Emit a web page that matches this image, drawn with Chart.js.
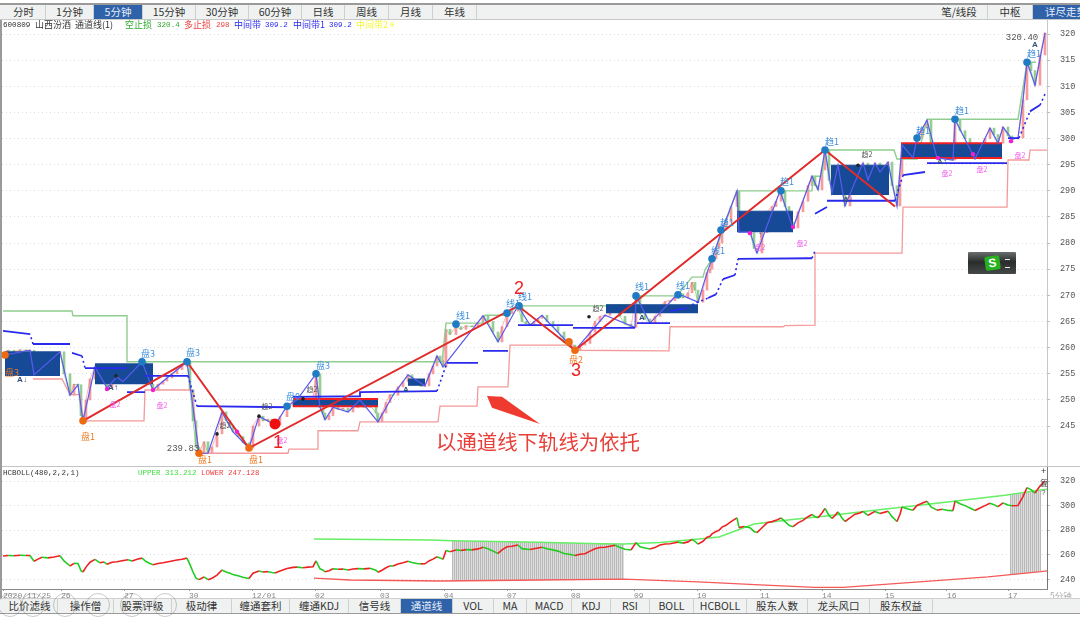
<!DOCTYPE html>
<html lang="zh"><head><meta charset="utf-8">
<script src="https://cdn.jsdelivr.net/npm/chart.js@4"></script>
<style>
html,body{margin:0;padding:0;background:#fff;overflow:hidden}
#app{position:relative;width:1080px;height:617px;font-family:"Liberation Mono","Noto Sans CJK SC",monospace;filter:blur(.35px);color:#333}
canvas{position:absolute}
.bar{position:absolute;left:0;width:1080px;background:#eff2f1;box-sizing:border-box}
.tab{position:absolute;top:0;height:100%;text-align:center;font:10.5px/14px "Noto Sans CJK SC",sans-serif;border-right:1px solid #ccd0cf;box-sizing:border-box;color:#333;white-space:nowrap;overflow:hidden}
.tab.on{background:#2f62a8;color:#e8eefa}
.tab.cut{text-align:left;padding-left:12px;border-right:0}
.leg{position:absolute;top:18px;font:9px/14px "Noto Sans CJK SC",sans-serif;white-space:pre}
.leg.n{font:7.6px/14px "Liberation Mono",monospace}
.leg2{position:absolute;top:467px;font:7.5px/12px "Liberation Mono","Noto Sans CJK SC",monospace;white-space:pre}
.ln{position:absolute;background:#9a9a9a}
.ring{position:absolute;width:24px;height:24px;border:1px solid rgba(120,120,120,.4);border-radius:50%;top:593px;box-sizing:border-box}
#wid{position:absolute;left:968px;top:252px;width:48px;height:22px;background:linear-gradient(#6a6e6e,#2b2d2d 45%,#454848);border-radius:1px}
#wid b{position:absolute;left:17px;top:4px;width:15px;height:14px;background:#27b01f;color:#fff;font:bold 12px/14px "Liberation Sans",sans-serif;text-align:center;transform:rotate(-8deg);border-radius:2px}
#wid i{position:absolute;right:6px;width:5px;height:1px;background:#eee}
</style></head><body><div id="app">
<div class="ln" style="left:0;top:3px;width:1080px;height:2px"></div>
<div class="ln" style="left:0;top:3px;width:2px;height:610px"></div>
<div id="topbar" class="bar" style="top:5px;height:14px"></div>
<div class="ln" style="left:0;top:19px;width:1080px;height:1px;background:#c8c8c8"></div>
<canvas id="main" style="left:2px;top:20px;width:1078px;height:446px"></canvas>
<canvas id="sub" style="left:2px;top:467px;width:1078px;height:133px"></canvas>
<div class="ln" style="left:2px;top:466px;width:1078px;height:1px;background:#c4c4c4"></div>
<div class="ln" style="left:2px;top:589px;width:1046px;height:1px;background:#888"></div>
<div id="legend"></div>
<div class="leg2" style="left:3px;color:#333">HCBOLL(480,2,2,1)</div>
<div class="leg2" style="left:138px;color:#3fdc3f">UPPER 313.212</div>
<div class="leg2" style="left:201px;color:#f04040">LOWER 247.128</div>
<div class="leg2" style="left:1041px;top:466px;color:#333;font-size:9px">+</div>
<div class="leg2" style="left:1040px;top:478px;color:#444;font-size:8px">复</div>
<div class="leg2" style="left:1041px;top:487px;color:#666;font-size:8px">?</div>
<div class="leg2" style="left:1050px;top:590px;color:#aaa;font-size:8.5px;line-height:10px;font-family:'Noto Sans CJK SC'">5分钟</div>
<div id="botbar" class="bar" style="top:598px;height:15px;border-top:1px solid #ccd0cf"></div>
<div class="ln" style="left:0;top:613px;width:1080px;height:1px"></div>
<div class="ring" style="left:-2px"></div><div class="ring" style="left:21px"></div><div class="ring" style="left:53px"></div><div class="ring" style="left:86px"></div><div class="ring" style="left:120px"></div><div class="ring" style="left:153px"></div>
<div id="wid"><b>S</b><i style="top:7px"></i><i style="top:15px"></i></div>
</div>
<script>
// Position along the time axis is expressed as bar position, price in yuan.
const topTabs=[["分时",2,46],["1分钟",46,94],["5分钟",94,143,1],["15分钟",143,196],["30分钟",196,249],["60分钟",249,302],["日线",302,345],["周线",345,389],["月线",389,433],["年线",433,477],["笔/线段",931,988],["中枢",988,1033],["详尽走势",1033,1080,2]];
const bottomTabs=[["比价滤线",2,58],["操作僧",58,114],["股票评级",114,172],["极动律",172,232],["缠通套利",232,290],["缠通KDJ",290,349],["信号线",349,401],["通道线",401,453,1],["VOL",453,494],["MA",494,527],["MACD",527,572],["KDJ",572,611],["RSI",611,650],["BOLL",650,694],["HCBOLL",694,747],["股东人数",747,808],["龙头风口",808,870],["股东权益",870,933]];
const legendItems=[["600809",3,"#333",1],["山西汾酒",35,"#333"],["通道线(1)",75,"#333"],["空止损",125,"#2faa2f"],["320.4",157,"#2faa2f",1],["多止损",184,"#f04040"],["298",216,"#f04040",1],["中间带",234,"#2a2af0"],["309.2",265,"#2a2af0",1],["中间带1",293,"#2a2af0"],["309.2",329,"#2a2af0",1],["中间带2",356,"#f6f63a"],["0",390,"#f6f63a",1]];

const priceTicks=[320,315,310,305,300,295,290,285,280,275,270,265,260,255,250,245];
const subTicks=[320,300,280,260,240];
const dayTicks=[3,61,124,189,252,315,380,444,507,571,634,697,760,822,885,947,1008];
const dayLabels=["2020/11/25","26","27","30","12/01","02","03","04","07","08","09","10","11","14","15","16","17"];

const pricePath=[[3,259],[8,259.5],[14,259.2],[20,259.6],[26,259.4],[30,259.5],[34,254.8],[38,256.5],[42,258],[48,257.5],[54,258.2],[60,259.2],[64,255],[70,250.9],[74,253],[78,252.9],[81,247],[83,246],[86,250],[90,254],[95,256.3],[100,253.5],[104,254.2],[107,252.3],[112,254],[117,254.4],[122,255.2],[128,256],[132,255],[138,256.6],[142,257.3],[146,254.5],[150,253],[153,251.9],[158,253],[163,253.6],[167,254.2],[172,255],[177,255.8],[182,256.4],[187,257.3],[190,252],[193,246],[196,241],[199,239.8],[204,242],[208,239.8],[212,241],[217,243.5],[222,247.7],[226,246],[230,245],[233,243.9],[238,243],[243,241.8],[249,240.8],[253,245],[259,246.9],[263,246],[268,246.3],[272,245.6],[275,245.2],[280,246.8],[287,248.8],[293,249.8],[297,250],[303,249.5],[308,250],[313,250.3],[316,255],[320,248.6],[323,247.5],[325,246.2],[329,247],[333,248.6],[338,248.2],[343,248.4],[348,247.7],[353,248.5],[358,248.8],[364,248.6],[370,249],[376,247.5],[378,245.8],[382,247.5],[386,249.5],[390,251],[393,250.9],[398,252.5],[403,253.5],[408,254.8],[412,253.8],[417,253],[421,252.6],[425,252.7],[429,255],[433,256.5],[437,258.4],[440,257.5],[443,256.3],[446,263.5],[450,262.5],[456,264],[461,263.5],[466,264.2],[472,264],[478,264.8],[483,266.1],[488,265],[493,263],[498,261.1],[502,264],[507,266.5],[512,267],[518,268],[522,265],[526,264.6],[530,264.3],[534,265],[538,265.6],[542,266.2],[547,265],[553,264],[558,263],[564,261],[569,260.5],[575,259.5],[580,260.5],[585,260.8],[590,263],[595,265],[600,266],[605,266.2],[610,267],[615,267.8],[620,266],[625,264.5],[631,263.9],[636,269.9],[640,266.5],[645,265.5],[650,264.7],[655,266],[660,268],[665,268.8],[670,269],[675,269.8],[678,270.3],[683,269.5],[688,270.5],[692,272.5],[695,271],[698,268.7],[703,271],[707,274.3],[710,275],[712,277],[716,279],[719,280],[722,282.5],[726,284],[731,287],[737,290],[739,282.1],[744,283],[750,282],[754,279],[757,278.1],[762,282],[767,286],[772,287],[776,288],[781,290],[785,287],[789,284],[793,282.9],[798,286],[803,288],[808,291],[812,292.8],[815,291],[818,290.2],[822,294],[825,297.8],[829,292],[832,289.6],[835,292],[838,294.9],[842,290],[845,287.1],[850,290],[855,293],[860,294],[863,295.3],[868,292.1],[872,294],[875,295.3],[880,293.6],[884,294.5],[888,295.5],[892,291],[897,287.1],[900,293],[902,298.8],[907,297.5],[913,296.3],[917,300.1],[922,302],[927,303.5],[931,299],[937,296.3],[942,297],[948,296],[953,295.9],[955,303.7],[960,301.5],[965,300],[970,298],[975,296.1],[980,298],[985,300],[990,302],[994,300.8],[998,299.1],[1003,302.2],[1008,300.5],[1012,299.9],[1018,300.1],[1023,307.4],[1027,314.6],[1031,313],[1035,310.2],[1040,316],[1045,320.2]];

const zigzag=[[5,258.6],[30,259.5],[34,254.8],[60,259.2],[70,250.9],[78,252.9],[83,246],[95,256.3],[107,252.3],[117,254.4],[123,253.5],[142,257.3],[153,251.9],[167,254.2],[187,257.3],[199,239.8],[208,239.8],[222,247.7],[233,243.9],[249,240.8],[259,246.9],[275,245.2],[287,248.8],[297,250],[316,255],[320,248.6],[325,246.2],[333,248.6],[348,247.7],[360,250],[378,245.8],[393,250.9],[408,254.8],[425,252.7],[437,258.4],[443,256.3],[483,266.1],[498,261.1],[518,268],[530,264.3],[542,266.2],[575,259.5],[605,266.2],[635,263.9],[636,269.9],[650,264.7],[678,270.3],[698,268.7],[707,274.3],[712,277],[722,282.5],[737,290],[739,282.1],[750,282.1],[757,278.1],[780,290],[793,282.9],[812,292.8],[818,290.2],[825,297.8],[832,289.6],[838,294.9],[845,287.1],[863,295.3],[868,292.1],[875,295.3],[880,293.6],[888,295.5],[897,287.1],[902,298.8],[913,296.3],[917,300.1],[927,303.5],[937,296.3],[953,295.9],[955,303.7],[975,296.1],[990,302],[998,299.1],[1003,302.2],[1012,299.9],[1018,300.1],[1023,307.4],[1027,314.6],[1035,310.2],[1045,320.2]];

const trendLine=[[83,246],[187,257.3],[249,240.8],[518,268],[575,259.5],[825,297.8],[895,287]];

const shortStop=[[3,267],[72,267],[73,266.1],[127,266.1],[127,257.3],[442,257.3],[446,264.7],[483,264.7],[485,266.2],[505,266.2],[518,268],[606,268],[607,268.2],[636,268.2],[637,269.9],[677,269.9],[692,273.5],[703,273.5],[705,274.9],[712,277],[722,282.1],[737,290],[812,290],[813,292.8],[822,292.8],[825,297.8],[894,297.8],[897,296.1],[917,296.1],[927,303.7],[1018,303.7],[1027,314.6],[1036,314.6]];

const longStop=[[33,254],[62,254],[70,251],[80,251],[83,246],[144,246],[145,251.9],[187,251.9],[192,251.9],[197,243],[199,239.8],[288,239.8],[289,240.6],[318,240.6],[318,244.1],[358,244.1],[360,245.8],[438,245.8],[440,248.8],[477,248.8],[478,252.5],[508,252.5],[510,260.5],[573,260.5],[575,259.5],[669,259.4],[670,264],[783,264],[785,264.2],[815,264.3],[815,278.1],[902,278.1],[903,286.9],[1007,286.9],[1008,295.9],[1029,295.9],[1030,297.8],[1047,297.8]];

const midBand=[[3,263.2],[30,262.6],null,[33,260.7],[70,260.7],null,[72,259],[82,258.4],null,[85,256.1],[127,256.1],null,[127,251.5],[145,251.5],null,[145,254.6],[188,254.6],null,[197,248.8],[287,248.6],null,[293,250.6],[360,250.7],[360,251.5],[437,251.7],null,[447,257.1],[478,257.1],null,[483,259.4],[508,259.4],null,[518,264.3],[573,264.3],null,[573,263.8],[635,263.8],null,[637,264.7],[670,264.7],null,[670,267],[687,267.6],null,[708,269.5],[716,270.2],null,[723,273.1],[735,273.9],null,[738,277],[812,277.1],null,[815,285.6],[827,286.9],null,[827,288.1],[895,288.1],null,[903,293],[925,293.6],null,[927,295.3],[1007,295.3],null,[1008,300.1],[1019,300.1],null,[1030,305.2],[1040,306.4]];
const midBandDots=[[33,260.7],[30,262.6],null,[82,258.4],[85,256.1],null,[188,254.6],[197,248.8],null,[437,251.7],[447,257.1],null,[692,268.2],[708,269.5],null,[716,270.2],[723,273.1],null,[735,273.9],[738,277],null,[812,277.1],[815,278.5],null,[895,288.1],[903,293],null,[1019,300.1],[1030,305.2],null,[1040,306.4],[1046,308.9]];

const boxes=[[5,60,254.6,259.2],[95,153,253,256.9],[293,378,248.8,250.2,1],[408,425,252.7,254],[606,698,266.6,268.2],[737,793,282.1,286.1],[831,889,289.2,294.9],[901,1002,296.3,299.1,1]];

const bluePivots=[[142,257.3],[187,257.3],[287,248.8],[316,255],[456,264.5],[507,266.6],[519,268],[636,269.9],[678,270.1],[712,277],[721,282.5],[781,290],[825,297.8],[917,300.1],[955,303.7],[1027,314.6]];
const orangePivots=[[5,258.6],[83,246],[199,239.8],[249,240.8],[569,261.1],[575,259.5]];
const magentaDots=[[107,252.1],[153,251.9],[237,243.9],[750,281.9],[793,283.1],[938,296.3],[973,297],[1011,299.5]];
const blackDots=[[116,254.6],[217,243.5],[259,246.9],[303,250.2],[589,265.9],[858,294.9]];
const entryDot=[[275,245.4]];

const blueLabels=[[148,258.8,"盘3"],[193,259,"盘3"],[323,256.5,"盘3"],[293,250.6,"盘0"],[463,266.1,"线1"],[513,268.4,"线1"],[525,269.7,"线1"],[642,271.6,"线1"],[683,271.8,"线1"],[718,278.5,"线1"],[727,284,"趋1"],[787,291.7,"趋1"],[832,299.5,"趋1"],[923,301.6,"趋1"],[962,305.3,"趋1"],[1034,316.2,"趋1"]];
const orangeLabels=[[88,242.9,"盘1"],[205,238.5,"盘1"],[256,238.5,"盘1"],[576,257.8,"盘2"],[12,255.3,"盘3"]];
const magentaLabels=[[115,249.2,"盘2"],[162,249,"盘2"],[282,242.3,"盘2"],[760,279.1,"盘2"],[802,280,"盘2"],[947,293.4,"盘2"],[982,294.2,"盘2"],[1020,296.7,"盘2"]];
const greyLabels=[[312,252.1,"趋2"],[225,245.2,"趋2"],[267,248.8,"趋2"],[867,296.9,"趋2"],[598,267.6,"趋2"]];
const arrowMarks=[[22,253.8,"A↓"],[113,252.3,"A↑"],[406,251.9,"A"],[642,265.7,"A"],[848,288.2,"A↓"],[760,281.5,"↑"],[942,295.5,"A↑"],[1035,317.9,"A"]];
const priceNotes=[[183,240.6,"239.83"],[1022,319.4,"320.40"]];
const bigNumbers=[[278,241.8,"1"],[519,271.2,"2"],[576,255.6,"3"]];
const noteText=[[538,241.9,"以通道线下轨线为依托"]];
const arrowShape=[[487,250.75],[502,250.6],[540,245.4],[492,248.5]];

const upperBand=[[314,272.8],[430,272],[452,271.5],[540,270.3],[600,269],[624,268.8],[660,270],[688,272],[719,274.5],[754,285],[790,288.5],[826,291.5],[868,295.6],[926,301],[1005,308.4],[1041,312.8],[1048,313.5]];
const lowerBand=[[314,241.1],[350,239.5],[440,238.7],[540,239.5],[624,240.3],[698,238],[760,235.5],[815,233.5],[843,233.5],[919,238],[988,242],[1041,246.3],[1048,247.1]];
const hatchUpperA=[[452,271.5],[540,270.3],[600,269],[624,268.8]];
const hatchLowerA=[[452,238.8],[540,239.5],[600,240],[624,240.3]];
const hatchUpperB=[[1010,308.9],[1041,312.8]];
const hatchLowerB=[[1010,243.5],[1041,246.3]];

const RED='#ee2222',GREEN='#22cc22';
const pts=a=>a.map(p=>p?{x:p[0],y:p[1]}:{x:null,y:null});
const mkTabs=(id,list)=>{const host=document.getElementById(id);list.forEach(t=>{const d=document.createElement('div');d.className='tab'+(t[3]?' on':'')+(t[3]===2?' cut':'');d.textContent=t[0];d.style.left=t[1]+'px';d.style.width=(t[2]-t[1])+'px';host.appendChild(d);});};
mkTabs('topbar',topTabs);mkTabs('botbar',bottomTabs);
legendItems.forEach(l=>{const d=document.createElement('div');d.className='leg'+(l[3]?' n':'');d.textContent=l[0];d.style.left=l[1]+'px';d.style.color=l[2];document.getElementById('legend').appendChild(d);});

const lineDs=(data,color,width,extra)=>Object.assign({type:'line',data:pts(data),borderColor:color,borderWidth:width,pointRadius:0,tension:0,spanGaps:false,fill:false},extra||{});
const dotDs=(data,color,r)=>({type:'line',data:pts(data),showLine:false,pointRadius:r,pointBackgroundColor:color,pointBorderWidth:0,pointHoverRadius:r});
const stack=list=>{list.forEach((d,i)=>{d.order=-i;});return list;};   // later entries paint on top
const candleData=pricePath.slice(1).map((p,i)=>({x:p[0],y:[pricePath[i][1],p[1]]}));
const candleColor=pricePath.slice(1).map((p,i)=>p[1]>=pricePath[i][1]?'rgba(240,90,90,.6)':'rgba(90,180,90,.65)');
const boxDatasets=[];
boxes.forEach(b=>{
  boxDatasets.push(lineDs([[b[0],b[3]],[b[1],b[3]]],b[4]?'#f02020':'#174a96',b[4]?2:1,{fill:{value:b[2]},backgroundColor:'#174a96'}));
  if(b[4])boxDatasets.push(lineDs([[b[0],b[2]],[b[1],b[2]]],'#f02020',2));
});

const textPlugin={id:'texts',afterDatasetsDraw(c){
  const X=c.scales.x,Y=c.scales.y,g=c.ctx;
  const put=(list,font,color,align)=>{g.save();g.font=font;g.fillStyle=color;g.textAlign=align||'center';g.textBaseline='middle';
    list.forEach(l=>g.fillText(l[2],X.getPixelForValue(l[0]),Y.getPixelForValue(l[1])));g.restore();};
  const cjk='"Noto Sans CJK SC",sans-serif';
  put(blueLabels,'9px '+cjk,'#3d8fdc');
  put(orangeLabels,'9px '+cjk,'#ee7a22');
  put(magentaLabels,'7px '+cjk,'#f060f0');
  put(greyLabels,'7px '+cjk,'#555');
  put(arrowMarks,'bold 8px "Liberation Sans",sans-serif','#35507d');
  put(priceNotes,'9px "Liberation Mono",monospace','#555');
  put(bigNumbers,'18px "Liberation Sans",sans-serif','#ee2222');
  put(noteText,'20.4px '+cjk,'#e8403a');
  g.save();g.fillStyle='#ef3a30';g.beginPath();
  arrowShape.forEach((p,i)=>{const x=X.getPixelForValue(p[0]),y=Y.getPixelForValue(p[1]);i?g.lineTo(x,y):g.moveTo(x,y);});
  g.closePath();g.fill();g.restore();
}};

const xScale={type:'linear',min:2,max:1047,offset:false,display:false,grid:{display:false},ticks:{display:false}};
const yScale=(min,max,ticks,w)=>({type:'linear',position:'right',min,max,
  afterBuildTicks:s=>{s.ticks=ticks.map(v=>({value:v}));},
  afterFit:s=>{s.width=w;s.paddingTop=0;s.paddingBottom=0;},
  grid:{color:'#dcdcdc',tickLength:3,tickColor:'#bbb',drawTicks:true},
  border:{dash:[1,3],color:'#c8c8c8'},
  ticks:{color:'#555',padding:10,font:{family:'"Liberation Mono",monospace',size:8.5},autoSkip:false,callback:v=>String(v)}});
const base={responsive:false,animation:false,events:[],layout:{autoPadding:false,padding:0},
  plugins:{legend:{display:false},tooltip:{enabled:false}}};
const size=(id,w,h)=>{const e=document.getElementById(id);e.width=w;e.height=h;return e;};

new Chart(size('main',1078,446),{type:'line',plugins:[textPlugin],
 data:{datasets:stack([
  {type:'bar',data:candleData,backgroundColor:candleColor,barThickness:2,grouped:false},
  lineDs(pricePath,'#eaa',1,{segment:{borderColor:x=>x.p1.parsed.y>=x.p0.parsed.y?'rgba(240,110,110,.5)':'rgba(100,185,100,.55)'}}),
  lineDs(shortStop,'#8fce8f',1.4),
  lineDs(longStop,'#f49a9a',1.3),
  ...boxDatasets,
  lineDs(zigzag,'#5a5af0',1.2),
  lineDs(midBandDots,'#2a2aee',1.6,{borderDash:[2,3]}),
  lineDs(midBand,'#2a2aee',1.8),
  lineDs(trendLine,'#e22a2a',2),
  dotDs(magentaDots,'#f020d0',2.2),
  dotDs(blackDots,'#222',1.8),
  dotDs(bluePivots,'#1f7cc4',3.8),
  dotDs(orangePivots,'#ee6a10',3.8),
  dotDs(entryDot,'#f01010',5.5)
 ])},
 options:Object.assign({},base,{scales:{x:xScale,y:yScale(237.36,322.68,priceTicks,33)}})});

const hatch=(()=>{const p=document.createElement('canvas');p.width=2;p.height=2;const g=p.getContext('2d');g.fillStyle='#b9b9b9';g.fillRect(0,0,1,2);g.fillStyle='#dedede';g.fillRect(1,0,1,2);return g.createPattern(p,'repeat');})();
new Chart(size('sub',1078,133),{type:'line',
 data:{datasets:stack([
  lineDs(hatchLowerA,'rgba(0,0,0,0)',0),
  lineDs(hatchUpperA,'rgba(0,0,0,0)',0,{fill:'-1',backgroundColor:hatch}),
  lineDs(hatchLowerB,'rgba(0,0,0,0)',0),
  lineDs(hatchUpperB,'rgba(0,0,0,0)',0,{fill:'-1',backgroundColor:hatch}),
  lineDs(upperBand,'#66ee66',1.5),
  lineDs(lowerBand,'#f45a5a',1.3),
  lineDs(pricePath,RED,1.6,{segment:{borderColor:x=>x.p1.parsed.y>=x.p0.parsed.y?RED:GREEN}})
 ])},
 options:Object.assign({},base,{scales:{
  x:{type:'linear',min:2,max:1047,offset:false,position:'bottom',
     afterBuildTicks:s=>{s.ticks=dayTicks.map(v=>({value:v}));},
     afterFit:s=>{s.height=11;s.paddingLeft=0;s.paddingRight=0;},
     grid:{drawOnChartArea:false,tickLength:2,color:'#999'},border:{color:'#888'},
     ticks:{autoSkip:false,maxRotation:0,minRotation:0,align:'start',padding:0,color:'#888',font:{family:'"Liberation Mono",monospace',size:8},
       callback:v=>dayLabels[dayTicks.indexOf(v)]}},
  y:Object.assign(yScale(232.2,331.4,subTicks,33),{border:{dash:[1,3],color:'#777'}})
 }})});
</script></body></html>
